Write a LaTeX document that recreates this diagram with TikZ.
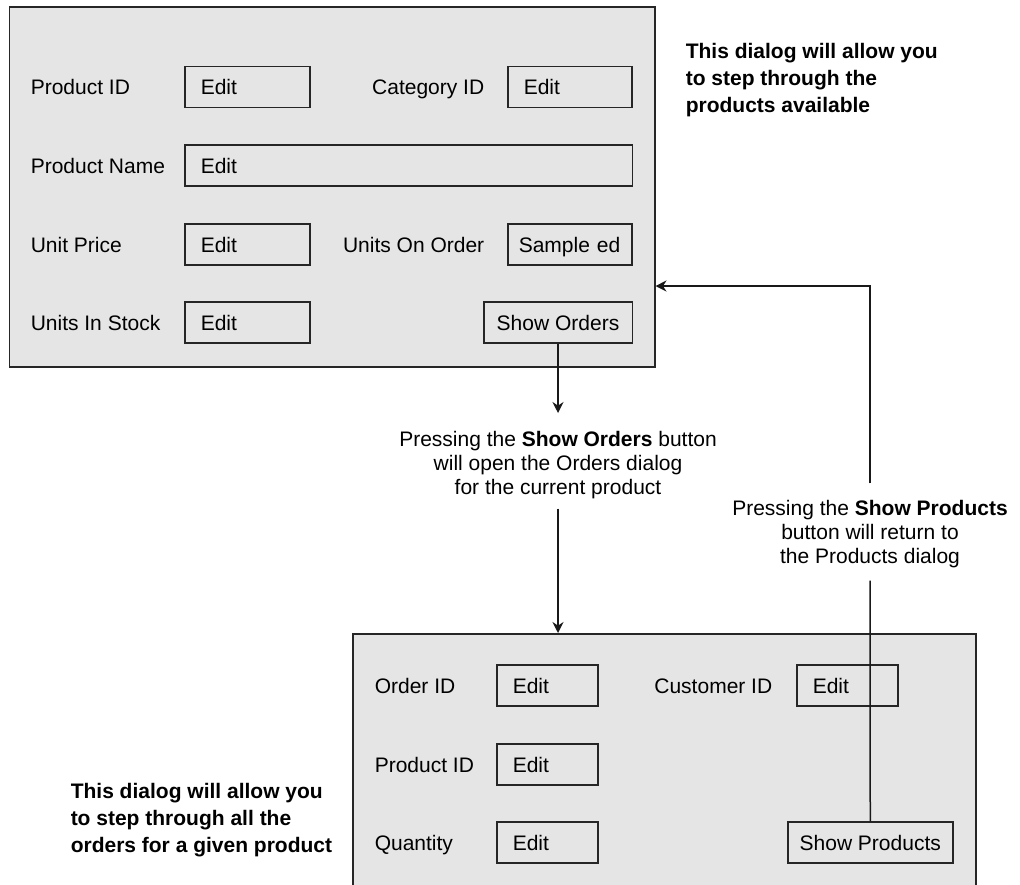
\documentclass[tikz,border=0pt]{standalone}
\usepackage{fontspec}
\setmainfont{Liberation Sans}
\usetikzlibrary{arrows.meta, positioning}

\begin{document}
\begin{tikzpicture}[x=0.5pt, y=-0.5pt, line width=0.75pt,
        every node/.style={font=\fontsize{10.5}{12}\selectfont, inner sep=0pt},
        dialog/.style={draw=black!85, fill=black!10, anchor=north west},
        lbl/.style={anchor=base west},
        lblr/.style={anchor=base east},
        editbox/.style={draw=black!85, fill=black!10, anchor=west, minimum height=20.5pt,
                        text width=#1, align=left, inner xsep=8pt, text height=7.5pt, text depth=0pt},
        button/.style={draw=black!85, fill=black!10, anchor=west, minimum height=20.5pt,
                       minimum width=#1, text height=7.5pt, text depth=0pt},
        note/.style={align=center, anchor=north},
        remark/.style={align=left, anchor=north west, font=\fontsize{10.5}{13.5}\selectfont\bfseries},
        link/.style={draw=black!90, -{Stealth[length=5.5pt, width=5.5pt]}}]
    \path[use as bounding box, clip] (0,0) rectangle (1020,884);

    % products dialog
    \node[dialog, minimum width=322.75pt, minimum height=180pt] (prodbox) at (8.5,6) {};
    \node[lbl] (pidlbl) at (30,94.5) {Product ID};
    \node[editbox=46.5pt] (pid) at (184,87) {Edit};
    \node[lblr] (catlbl) at (485,94.5) {Category ID};
    \node[editbox=46pt] (cat) at (507,87) {Edit};
    \node[lbl] (namelbl) at (30,173) {Product Name};
    \node[editbox=207.75pt] (name) at (184,165.5) {Edit};
    \node[lbl] (pricelbl) at (30,252) {Unit Price};
    \node[editbox=46.5pt] (price) at (184,244.5) {Edit};
    \node[lblr] (onordlbl) at (485,252) {Units On Order};
    \node[editbox=51pt, inner xsep=5.5pt] (onord) at (507,244.5) {Sample ed};
    \node[lbl] (stocklbl) at (30,330) {Units In Stock};
    \node[editbox=46.5pt] (stock) at (184,322.5) {Edit};
    \node[button=74.25pt] (showord) at (483,322.5) {Show Orders};

    \node[remark] (prodremark) at (685,43) {This dialog will allow you\\to step through the\\products available};

    % orders dialog
    \node[dialog, minimum width=311.5pt, minimum height=150pt] (ordbox) at (352,633) {};
    \node[lbl] (oidlbl) at (374,693) {Order ID};
    \node[editbox=34.5pt] (oid) at (496,685.5) {Edit};
    \node[lblr] (custlbl) at (773,693) {Customer ID};
    \node[editbox=34.5pt] (cust) at (796,685.5) {Edit};
    \node[lbl] (opidlbl) at (374,772) {Product ID};
    \node[editbox=34.5pt] (opid) at (496,764.5) {Edit};
    \node[lbl] (qtylbl) at (374,850) {Quantity};
    \node[editbox=34.5pt] (qty) at (496,842.5) {Edit};
    \node[button=82.5pt] (showprod) at (787,842.5) {Show Products};

    \node[remark] (ordremark) at (70,783) {This dialog will allow you\\to step through all the\\orders for a given product};

    % notes on the buttons
    \node[note] (ordnote) at (558,431) {Pressing the \textbf{Show Orders} button\\will open the Orders dialog\\for the current product};
    \node[note] (retnote) at (870,500) {Pressing the \textbf{Show Products}\\button will return to\\the Products dialog};

    % going there and back
    \draw[link, shorten >=9pt] (showord.south) -- (ordnote.north);
    \draw[link, shorten <=4.25pt] (ordnote.south) -- (ordnote.south |- ordbox.north);

    \coordinate (ret) at (prodbox.east |- 0,286);
    \draw[draw=black!90, shorten >=5.8pt] (showprod.north) -- (retnote.south);
    \draw[link, shorten <=8.35pt] (retnote.north) |- (ret);
\end{tikzpicture}
\end{document}
